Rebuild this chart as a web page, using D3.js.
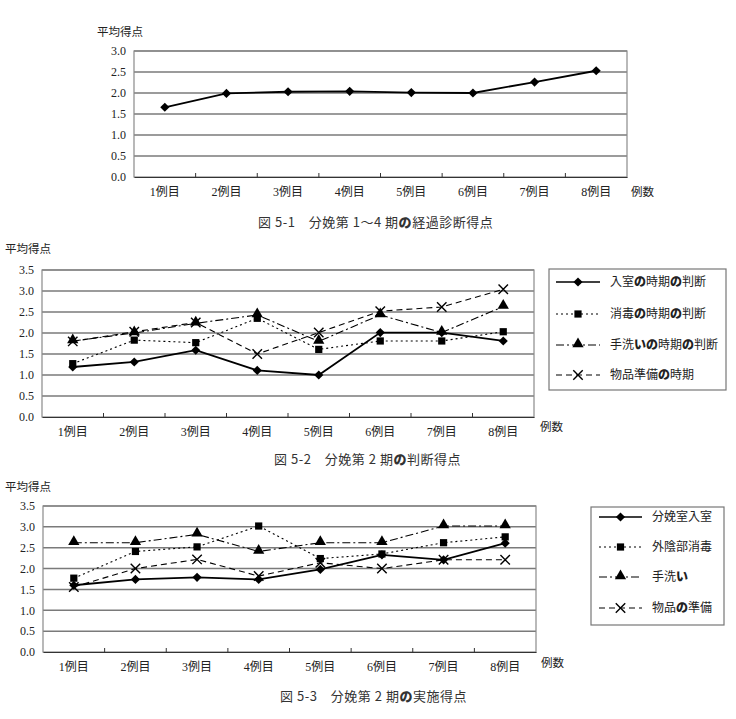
<!DOCTYPE html>
<html>
<head>
<meta charset="utf-8">
<script src="https://cdn.jsdelivr.net/npm/d3@7"></script>
<style>
  body { margin: 0; background: #fff; }
  svg { display: block; }
  .tick text { font-family: "Liberation Serif", "Noto Sans CJK JP", serif; font-size: 12px; fill: #222; }
  .title { font-family: "Noto Sans CJK JP", sans-serif; font-size: 11.5px; fill: #222; }
  .caption { font-family: "Noto Sans CJK JP", sans-serif; font-size: 13px; fill: #333; }
  .legend text { font-family: "Noto Sans CJK JP", sans-serif; font-size: 12px; fill: #222; }
</style>
</head>
<body>
<script>
// ---- data ----
const categories = ["1例目", "2例目", "3例目", "4例目", "5例目", "6例目", "7例目", "8例目"];
const yTicksA = [0, 0.5, 1.0, 1.5, 2.0, 2.5, 3.0];
const yTicksB = [0, 0.5, 1.0, 1.5, 2.0, 2.5, 3.0, 3.5];

// 図5-1
const progressScores = [1.66, 1.99, 2.03, 2.04, 2.01, 2.00, 2.26, 2.53];

// 図5-2
const judgeNames = ["入室の時期の判断", "消毒の時期の判断", "手洗いの時期の判断", "物品準備の時期"];
const judgeEntry = [1.19, 1.31, 1.59, 1.11, 1.00, 2.01, 2.01, 1.81];
const judgeDisinfect = [1.27, 1.83, 1.77, 2.35, 1.61, 1.81, 1.81, 2.03];
const judgeHandwash = [1.81, 2.00, 2.23, 2.43, 1.80, 2.43, 2.01, 2.63];
const judgeSupplies = [1.80, 2.03, 2.25, 1.50, 2.01, 2.52, 2.62, 3.04];

// 図5-3
const practiceNames = ["分娩室入室", "外陰部消毒", "手洗い", "物品の準備"];
const practiceEntry = [1.60, 1.74, 1.79, 1.74, 1.98, 2.33, 2.21, 2.61];
const practiceDisinfect = [1.77, 2.41, 2.52, 3.02, 2.24, 2.35, 2.62, 2.76];
const practiceHandwash = [2.62, 2.62, 2.82, 2.41, 2.62, 2.62, 3.02, 3.02];
const practiceSupplies = [1.56, 2.00, 2.22, 1.82, 2.14, 2.00, 2.21, 2.21];

// ---- styles per series index ----
const seriesStyles = [
  {dash: null, symbol: "diamond"},
  {dash: "2,3", symbol: "square"},
  {dash: "8,3,2,3", symbol: "triangle"},
  {dash: "6,4", symbol: "times"}
];

const svg = d3.select("body").append("svg")
  .attr("width", 736)
  .attr("height", 719);

// bold の and い like the original rendering
const richText = (sel, text) => {
  text.split(/([のい])/).filter(s => s.length).forEach(part => {
    sel.append("tspan")
      .attr("font-weight", /^[のい]$/.test(part) ? "900" : null)
      .text(part);
  });
};

const drawMarker = (g, kind, x, y) => {
  if (kind === "diamond") {
    g.append("path")
      .attr("d", d3.symbol(d3.symbolSquare, 42)())
      .attr("transform", `translate(${x},${y}) rotate(45)`)
      .attr("fill", "#000");
  } else if (kind === "square") {
    g.append("path")
      .attr("d", d3.symbol(d3.symbolSquare, 52)())
      .attr("transform", `translate(${x},${y})`)
      .attr("fill", "#000");
  } else if (kind === "triangle") {
    g.append("path")
      .attr("d", d3.symbol(d3.symbolTriangle, 55)())
      .attr("transform", `translate(${x},${y - 1})`)
      .attr("fill", "#000");
  } else {
    g.append("path")
      .attr("d", d3.symbol(d3.symbolTimes, 60)())
      .attr("transform", `translate(${x},${y})`)
      .attr("fill", "none")
      .attr("stroke", "#000")
      .attr("stroke-width", 1.4);
  }
};

const drawPanel = (opt) => {
  const {left, right, top, bottom, yTicks, series, yTitle, xTitle, caption} = opt;
  const g = svg.append("g");

  const xScale = d3.scaleBand()
    .domain(categories)
    .range([left, right]);
  const yScale = d3.scaleLinear()
    .domain([0, d3.max(yTicks)])
    .range([bottom, top]);

  // gridlines
  g.selectAll(".grid")
    .data(yTicks.filter(t => t > 0))
    .join("line")
      .attr("x1", left).attr("x2", right)
      .attr("y1", d => yScale(d)).attr("y2", d => yScale(d))
      .attr("stroke", "#7a7a7a")
      .attr("stroke-width", 1.5);

  // plot border
  g.append("rect")
    .attr("x", left).attr("y", top)
    .attr("width", right - left).attr("height", bottom - top)
    .attr("fill", "none")
    .attr("stroke", "#8a8a8a")
    .attr("stroke-width", 1.2);

  // y axis
  const leftAxis = d3.axisLeft(yScale)
    .tickValues(yTicks)
    .tickFormat(d3.format(".1f"))
    .tickSize(0)
    .tickPadding(8);
  g.append("g")
    .attr("transform", `translate(${left},0)`)
    .call(leftAxis)
    .call(s => s.select(".domain").remove());

  // x axis
  const bottomAxis = d3.axisBottom(xScale)
    .tickSize(0)
    .tickPadding(10);
  g.append("g")
    .attr("transform", `translate(0,${bottom})`)
    .call(bottomAxis)
    .call(s => s.select(".domain").attr("stroke", "#333").attr("stroke-width", 1.2));

  // inner tick marks at category boundaries
  g.selectAll(".xtick")
    .data(categories.slice(1))
    .join("line")
      .attr("x1", d => xScale(d)).attr("x2", d => xScale(d))
      .attr("y1", bottom).attr("y2", bottom - 4)
      .attr("stroke", "#333");

  // series
  series.forEach((values, i) => {
    const style = seriesStyles[i];
    const line = d3.line()
      .x((d, j) => xScale(categories[j]) + xScale.bandwidth() / 2)
      .y(d => yScale(d));
    g.append("path")
      .attr("d", line(values))
      .attr("fill", "none")
      .attr("stroke", "#000")
      .attr("stroke-width", i === 0 ? 1.8 : 1.1)
      .attr("stroke-dasharray", style.dash);
    values.forEach((v, j) => {
      drawMarker(g, style.symbol, xScale(categories[j]) + xScale.bandwidth() / 2, yScale(v));
    });
  });

  // titles
  g.append("text").attr("class", "title")
    .attr("x", yTitle[0]).attr("y", yTitle[1])
    .text("平均得点");
  g.append("text").attr("class", "title")
    .attr("x", xTitle[0]).attr("y", xTitle[1])
    .text("例数");
  const cap = g.append("text").attr("class", "caption")
    .attr("x", caption[0]).attr("y", caption[1])
    .attr("letter-spacing", "0.5px");
  richText(cap, caption[2]);

  return g;
};

const drawLegend = (opt) => {
  const {x, y, w, h, rows, names, lineX0, lineX1, textX} = opt;
  const g = svg.append("g").attr("class", "legend");
  g.append("rect")
    .attr("x", x).attr("y", y).attr("width", w).attr("height", h)
    .attr("fill", "#fff")
    .attr("stroke", "#777")
    .attr("stroke-width", 1.2);
  names.forEach((name, i) => {
    const style = seriesStyles[i];
    const ry = rows[i];
    g.append("line")
      .attr("x1", lineX0).attr("x2", lineX1)
      .attr("y1", ry).attr("y2", ry)
      .attr("stroke", "#000")
      .attr("stroke-width", i === 0 ? 1.6 : 1.1)
      .attr("stroke-dasharray", style.dash);
    drawMarker(g, style.symbol, (lineX0 + lineX1) / 2, ry);
    const t = g.append("text")
      .attr("x", textX).attr("y", ry + 4);
    richText(t, name);
  });
};

// 図5-1
drawPanel({
  left: 134, right: 627, top: 51, bottom: 177,
  yTicks: yTicksA,
  series: [progressScores],
  yTitle: [97, 36],
  xTitle: [631, 196],
  caption: [258, 227, "図 5-1　分娩第 1～4 期の経過診断得点"]
});

// 図5-2
drawPanel({
  left: 42, right: 534, top: 270, bottom: 417,
  yTicks: yTicksB,
  series: [judgeEntry, judgeDisinfect, judgeHandwash, judgeSupplies],
  yTitle: [5, 253],
  xTitle: [540, 431],
  caption: [274, 464, "図 5-2　分娩第 2 期の判断得点"]
});
drawLegend({
  x: 549, y: 269, w: 177, h: 121,
  rows: [282, 314, 345, 375],
  names: judgeNames,
  lineX0: 556, lineX1: 600, textX: 610
});

// 図5-3
drawPanel({
  left: 43, right: 536, top: 506, bottom: 652,
  yTicks: yTicksB,
  series: [practiceEntry, practiceDisinfect, practiceHandwash, practiceSupplies],
  yTitle: [5, 491],
  xTitle: [541, 667],
  caption: [280, 701, "図 5-3　分娩第 2 期の実施得点"]
});
drawLegend({
  x: 591, y: 507, w: 133, h: 118,
  rows: [517, 547, 577, 608],
  names: practiceNames,
  lineX0: 599, lineX1: 642, textX: 652
});
</script>
</body>
</html>
